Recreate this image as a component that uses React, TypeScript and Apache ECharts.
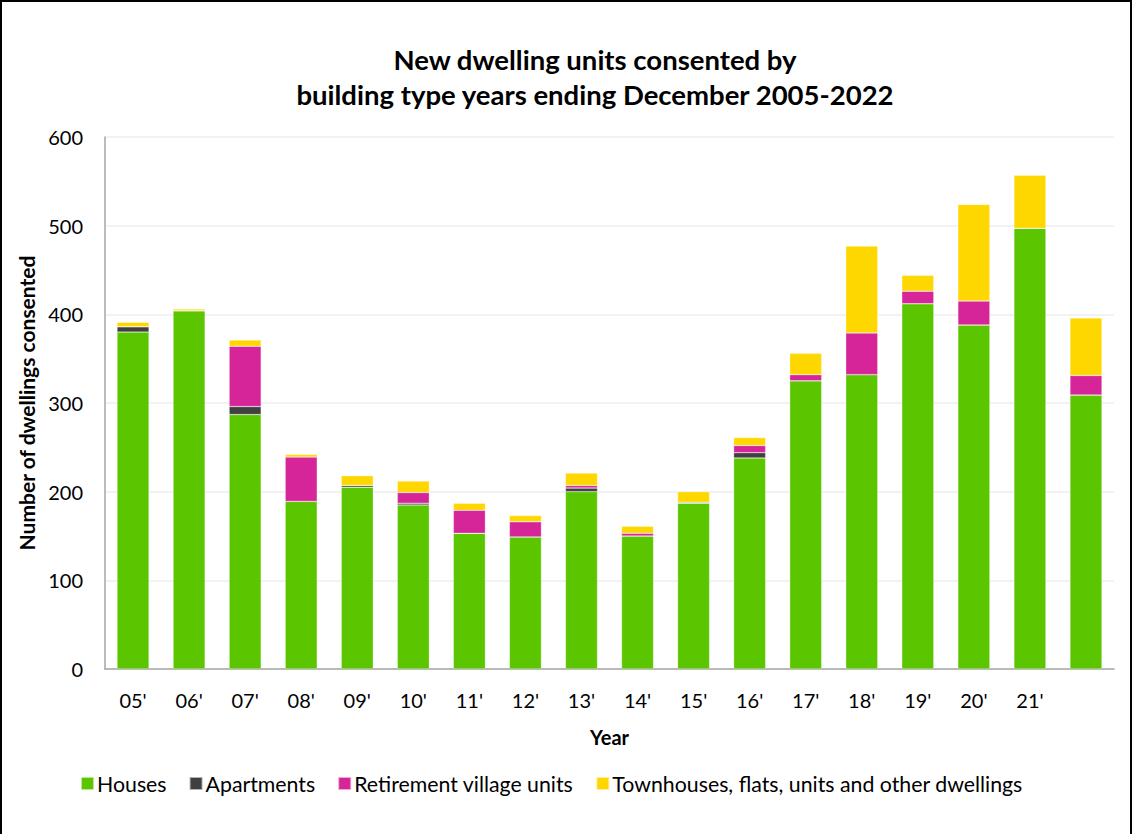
import React, { useEffect, useRef } from "react";
import * as echarts from "echarts";

const categories = ["05'", "06'", "07'", "08'", "09'", "10'", "11'", "12'", "13'", "14'", "15'", "16'", "17'", "18'", "19'", "20'", "21'", ""];
const houses = [380, 404, 287, 189, 205, 185, 153, 149, 200, 150, 187, 238, 325, 332, 412, 388, 497, 309];
const apartments = [6, 0, 9, 0, 2, 2, 0, 0, 4, 0, 1, 6, 0, 0, 0, 0, 0, 0];
const retirement = [0, 0, 68, 50, 0, 12, 26, 17, 3, 3, 0, 8, 7, 47, 14, 27, 0, 22];
const townhouses = [5, 2, 7, 3, 11, 13, 8, 7, 14, 8, 12, 9, 24, 98, 18, 109, 60, 65];
const yTicks = [0, 100, 200, 300, 400, 500, 600];

const FONT = "Lato";

export default function App() {
  const ref = useRef<HTMLDivElement>(null);
  useEffect(() => {
    if (!ref.current) return;
    const chart = echarts.init(ref.current, null, { renderer: "svg" });
    const mk = (name: string, data: number[], color: string) => ({
      name,
      type: "bar",
      stack: "total",
      data,
      barWidth: 32,
      itemStyle: { color, borderColor: "rgba(255,255,255,0.6)", borderWidth: 0.5 },
    });
    chart.setOption({
      animation: false,
      backgroundColor: "#ffffff",
      textStyle: { fontFamily: FONT },
      title: {
        text: "New dwelling units consented by\nbuilding type years ending December 2005-2022",
        left: 590,
        top: 37,
        textAlign: "center",
        textStyle: { fontFamily: FONT, fontSize: 27.5, fontWeight: "bold", color: "#000", lineHeight: 35 },
      },
      graphic: [
        {
          type: "rect",
          shape: { x: 1, y: 1, width: 1130, height: 860 },
          style: { fill: "none", stroke: "#000", lineWidth: 2 },
          silent: true,
        },
      ],
      legend: {
        left: 75,
        top: 768,
        itemWidth: 13,
        itemHeight: 13,
        itemGap: 22,
        icon: "rect",
        textStyle: { fontFamily: FONT, fontSize: 21.3, color: "#000", padding: [0, 0, 0, -2] },
        data: ["Houses", "Apartments", "Retirement village units", "Townhouses, flats, units and other dwellings"],
      },
      grid: { left: 105, right: 19, top: 137, bottom: 165 },
      xAxis: {
        type: "category",
        data: categories,
        name: "Year",
        nameLocation: "middle",
        nameGap: 58,
        nameTextStyle: { fontFamily: FONT, fontSize: 20, fontWeight: "bold", color: "#000" },
        axisLine: { lineStyle: { color: "#a6a6a6", width: 1.5 } },
        axisTick: { show: false },
        axisLabel: { fontFamily: FONT, fontSize: 20, color: "#000", margin: 21 },
      },
      yAxis: {
        type: "value",
        min: yTicks[0],
        max: yTicks[yTicks.length - 1],
        interval: 100,
        name: "Number of dwellings consented",
        nameLocation: "middle",
        nameGap: 65,
        nameTextStyle: { fontFamily: FONT, fontSize: 21, fontWeight: "bold", color: "#000" },
        axisLine: { show: true, lineStyle: { color: "#a6a6a6", width: 1.5 } },
        axisTick: { show: false },
        axisLabel: { fontFamily: FONT, fontSize: 20, color: "#000", margin: 22 },
        splitLine: { lineStyle: { color: "#eeeeee", width: 1.5 } },
      },
      series: [
        mk("Houses", houses, "#5bc500"),
        mk("Apartments", apartments, "#404040"),
        mk("Retirement village units", retirement, "#d62598"),
        mk("Townhouses, flats, units and other dwellings", townhouses, "#ffd700"),
      ],
    });
    return () => chart.dispose();
  }, []);
  return <div ref={ref} style={{ position: "fixed", left: 0, top: 0, width: 1133, height: 834 }} />;
}
